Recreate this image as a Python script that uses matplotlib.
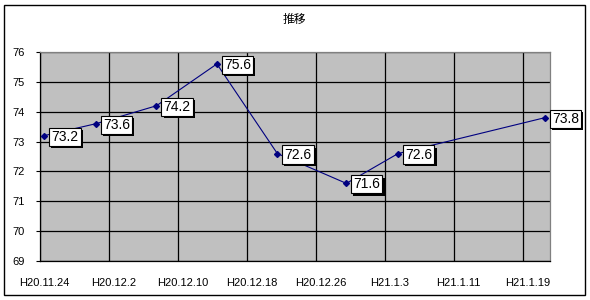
import numpy as np
import matplotlib.pyplot as plt
import matplotlib.dates as mdates
import matplotlib.patheffects as pe
from matplotlib.patches import Rectangle

plt.rcParams['font.family'] = ['Liberation Sans', 'Noto Sans CJK JP', 'DejaVu Sans']

# -------------------------
# Dados
# -------------------------
datas = np.array(['2008-11-24', '2008-11-30', '2008-12-07', '2008-12-14',
                  '2008-12-21', '2008-12-29', '2009-01-04', '2009-01-21'],
                 dtype='datetime64[D]')
valores = [73.2, 73.6, 74.2, 75.6, 72.6, 71.6, 72.6, 73.8]

ticks = np.array(['2008-11-24', '2008-12-02', '2008-12-10', '2008-12-18',
                  '2008-12-26', '2009-01-03', '2009-01-11', '2009-01-19'],
                 dtype='datetime64[D]')
tick_labels = ['H20.11.24', 'H20.12.2', 'H20.12.10', 'H20.12.18',
               'H20.12.26', 'H21.1.3', 'H21.1.11', 'H21.1.19']
titulo = '推移'

# pontos no meio do dia (estilo Excel)
x = mdates.date2num(datas.astype('datetime64[s]').astype(object)) + 0.5
xt = mdates.date2num(ticks.astype('datetime64[s]').astype(object))

# -------------------------
# Gráfico
# -------------------------
fig = plt.figure(figsize=(5.9, 3.0), dpi=100)
ax = fig.add_axes([40 / 590, 39 / 300, 510 / 590, 209 / 300])
ax.set_facecolor('#c0c0c0')

ax.plot(x, valores, color='#000080', lw=0.8, marker='D', ms=3, zorder=3)

sombra = [pe.SimplePatchShadow(offset=(1.6, -1.6), shadow_rgbFace='black', alpha=1),
          pe.Normal()]
for xi, v in zip(x, valores):
    t = ax.annotate(f'{v}', (xi, v), xytext=(7, -1), textcoords='offset pixels',
                    ha='left', va='center', fontsize=10, color='black', zorder=5,
                    bbox=dict(boxstyle='square,pad=0.15', fc='white', ec='black', lw=0.8),
                    annotation_clip=False)
    t.get_bbox_patch().set_path_effects(sombra)

ax.set_xlim(xt[0], xt[0] + 59.1)
ax.set_ylim(69, 76)
ax.set_yticks(range(69, 77))
ax.set_xticks(xt)
ax.set_xticklabels([])
ax.set_xticks(xt + 0.5, minor=True)
ax.set_xticklabels(tick_labels, minor=True)
ax.tick_params(axis='x', which='major', length=0)
ax.tick_params(axis='x', which='minor', length=0, pad=12, labelsize=8)
ax.tick_params(axis='y', length=3, width=0.8, pad=8, labelsize=8)
ax.grid(True, which='major', color='black', lw=0.9)
ax.set_axisbelow(True)

for s in ['top', 'right']:
    ax.spines[s].set_color('#808080')
for s in ['left', 'bottom']:
    ax.spines[s].set_color('black')
for s in ax.spines.values():
    s.set_linewidth(0.9)

fig.text(294 / 590, 1 - 20 / 300, titulo, ha='center', va='center', fontsize=8.5)
fig.patches.append(Rectangle((4 / 590, 5 / 300), 581 / 590, 290 / 300,
                             transform=fig.transFigure, fill=False,
                             ec='black', lw=1.0))

fig.savefig('out.png', dpi=100)
